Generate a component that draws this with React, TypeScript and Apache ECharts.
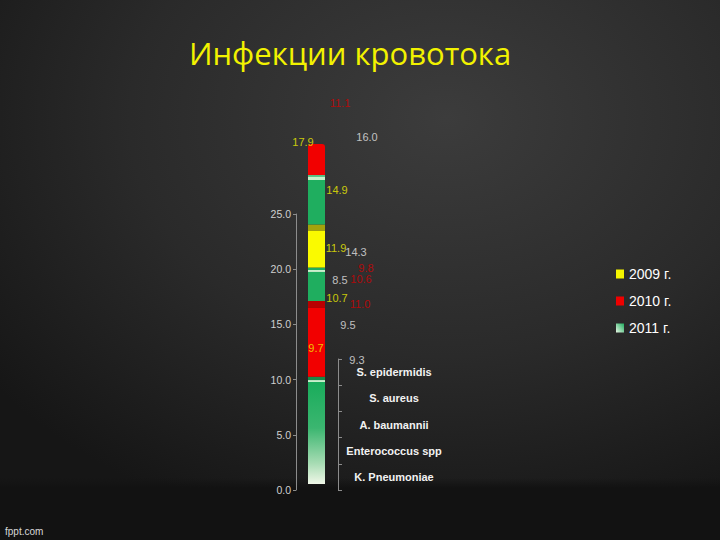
import React, { useEffect, useRef } from "react";
import * as echarts from "echarts";

const titleText = "Инфекции кровотока";
const footerText = "fppt.com";
const categories = ["S. epidermidis", "S. aureus", "A. baumannii", "Enterococcus spp", "K. Pneumoniae"];
const years = ["2009 г.", "2010 г.", "2011 г."];
const yTicks = [0, 5, 10, 15, 20, 25];

// data labels as they appear on the slide
const values2009 = [17.9, 14.9, 11.9, 10.7, 9.7];
const values2010 = [11.1, 9.8, 10.6, 11.0];
const values2011 = [16.0, 14.3, 8.5, 9.5, 9.3];

// the single (projected) stacked column, segment heights in axis units, bottom -> top
const segmentValues = [0.54, 9.24, 0.18, 0.3, 6.23, 0.63, 2.63, 0.18, 0.22, 3.31, 0.59, 4.03, 0.27, 0.18, 2.81];
const segmentYear = [-1, 2, 2, 2, 1, 1, 2, 2, 2, 0, 0, 2, 2, 2, 1];

// ---- layout / style (kept apart from the data) ----
const labelPos2009 = [[303, 142], [337, 190], [336, 248], [337, 298], [316, 348]];
const labelPos2010 = [[340, 103], [366, 268], [361, 279], [360, 304]];
const labelPos2011 = [[367, 137], [356, 252], [340, 280], [348, 325], [357, 360]];

const greenGradient = () =>
  new echarts.graphic.LinearGradient(0, 0, 0, 1, [
    { offset: 0, color: "#19ac5b" },
    { offset: 0.45, color: "#3bb670" },
    { offset: 0.8, color: "#a8dcb4" },
    { offset: 1, color: "#f0f7e8" },
  ]);

const segmentColors: any[] = [
  "rgba(0,0,0,0)",
  greenGradient(),
  "#c8f0cc",
  "#178a48",
  "#f20000",
  "#b80000",
  "#1fae5f",
  "#c8f0cc",
  "#1fae5f",
  "#fafa00",
  "#a3a30c",
  "#1fae5f",
  "#c8f0cc",
  "#5cc485",
  "#f20000",
];

const legendColors: any[] = [
  "#f5f500",
  "#ee0000",
  new echarts.graphic.LinearGradient(1, 0, 0, 1, [
    { offset: 0, color: "#1fae5f" },
    { offset: 1, color: "#e8f6e4" },
  ]),
];
const labelColors = ["#f0f000", "#d00000", "#e6e6e6"];

export default function App() {
  const ref = useRef<HTMLDivElement>(null);

  useEffect(() => {
    const chart = echarts.init(ref.current!, null, { renderer: "svg" });

    const segSeries = segmentValues.map((v, i) => ({
      type: "bar",
      name: segmentYear[i] >= 0 ? years[segmentYear[i]] : "base",
      stack: "total",
      xAxisIndex: 0,
      yAxisIndex: 0,
      barWidth: 17,
      clip: false,
      silent: true,
      data: [v],
      itemStyle: {
        color: segmentColors[i],
        borderRadius: i === segmentValues.length - 1 ? [3, 3, 0, 0] : 0,
      },
    }));

    const labelSeries = [values2009, values2010, values2011].map((vals, s) => {
      const pos = [labelPos2009, labelPos2010, labelPos2011][s];
      return {
        type: "scatter",
        name: "labels" + s,
        xAxisIndex: 2,
        yAxisIndex: 2,
        symbolSize: 0,
        silent: true,
        clip: false,
        data: vals.map((v, i) => [pos[i][0], pos[i][1], v]),
        label: {
          show: true,
          position: "inside",
          formatter: (p: any) => p.value[2].toFixed(1),
          color: labelColors[s],
          fontSize: 11,
          fontFamily: "Liberation Sans, Arial, sans-serif",
        },
      };
    });

    chart.setOption({
      animation: false,
      backgroundColor: "#1a1a1a",
      graphic: [
        {
          type: "rect",
          silent: true,
          z: -10,
          shape: { x: 0, y: 0, width: 720, height: 540 },
          style: {
            fill: new echarts.graphic.RadialGradient(0.62, 0.22, 0.8, [
              { offset: 0, color: "#3c3c3c" },
              { offset: 0.55, color: "#2a2a2a" },
              { offset: 1, color: "#161616" },
            ]),
          },
        },
        {
          type: "rect",
          silent: true,
          z: -9,
          shape: { x: 0, y: 478, width: 720, height: 10 },
          style: {
            fill: new echarts.graphic.LinearGradient(0, 0, 0, 1, [
              { offset: 0, color: "rgba(18,18,18,0)" },
              { offset: 1, color: "rgba(18,18,18,1)" },
            ]),
          },
        },
        {
          type: "rect",
          silent: true,
          z: -9,
          shape: { x: 0, y: 488, width: 720, height: 52 },
          style: { fill: "#121212" },
        },
        {
          type: "text",
          x: 350,
          y: 53,
          style: {
            text: titleText,
            fill: "#f2f200",
            font: '31px "Open Sans", sans-serif',
            textAlign: "center",
            textVerticalAlign: "middle",
          },
        },
        {
          type: "text",
          x: 5,
          y: 531,
          style: {
            text: footerText,
            fill: "#d8d8d8",
            font: '10px "Liberation Sans", Arial, sans-serif',
            textAlign: "left",
            textVerticalAlign: "middle",
          },
        },
      ],
      legend: {
        orient: "vertical",
        left: 611,
        top: 262,
        itemWidth: 8,
        itemHeight: 9,
        itemGap: 13,
        icon: "rect",
        selectedMode: false,
        data: years.map((n, i) => ({ name: n, itemStyle: { color: legendColors[i] } })),
        textStyle: { color: "#ffffff", fontSize: 14, fontFamily: "Liberation Sans, Arial, sans-serif" },
      },
      grid: [
        { left: 296, top: 214, width: 41, height: 276 },
        { left: 300, top: 359, width: 38, height: 131 },
        { left: 0, top: 0, width: 720, height: 540 },
      ],
      xAxis: [
        { type: "category", gridIndex: 0, data: ["total"], show: false },
        { type: "value", gridIndex: 1, min: 0, max: 1, show: false },
        { type: "value", gridIndex: 2, min: 0, max: 720, show: false },
      ],
      yAxis: [
        {
          type: "value",
          gridIndex: 0,
          min: yTicks[0],
          max: yTicks[yTicks.length - 1],
          interval: 5,
          axisLine: { show: true, onZero: false, lineStyle: { color: "#8c8c8c", width: 1 } },
          axisTick: { show: true, length: 3, lineStyle: { color: "#8c8c8c" } },
          splitLine: { show: false },
          axisLabel: {
            margin: 5,
            color: "#d0d0d0",
            fontSize: 10.5,
            fontFamily: "Liberation Sans, Arial, sans-serif",
            formatter: (v: number) => v.toFixed(1),
          },
        },
        {
          type: "category",
          gridIndex: 1,
          data: categories,
          inverse: true,
          position: "right",
          axisLine: { show: true, onZero: false, lineStyle: { color: "#8c8c8c", width: 1 } },
          axisTick: { show: true, length: 4, lineStyle: { color: "#8c8c8c" } },
          splitLine: { show: false },
          axisLabel: {
            margin: 56,
            align: "center",
            color: "#f2f2f2",
            fontSize: 11,
            fontWeight: "bold",
            fontFamily: "Liberation Sans, Arial, sans-serif",
          },
        },
        { type: "value", gridIndex: 2, min: 0, max: 540, inverse: true, show: false },
      ],
      series: [...segSeries, ...labelSeries],
    });

    return () => chart.dispose();
  }, []);

  return (
    <div
      ref={ref}
      style={{ position: "absolute", left: 0, top: 0, width: 720, height: 540 }}
    />
  );
}
